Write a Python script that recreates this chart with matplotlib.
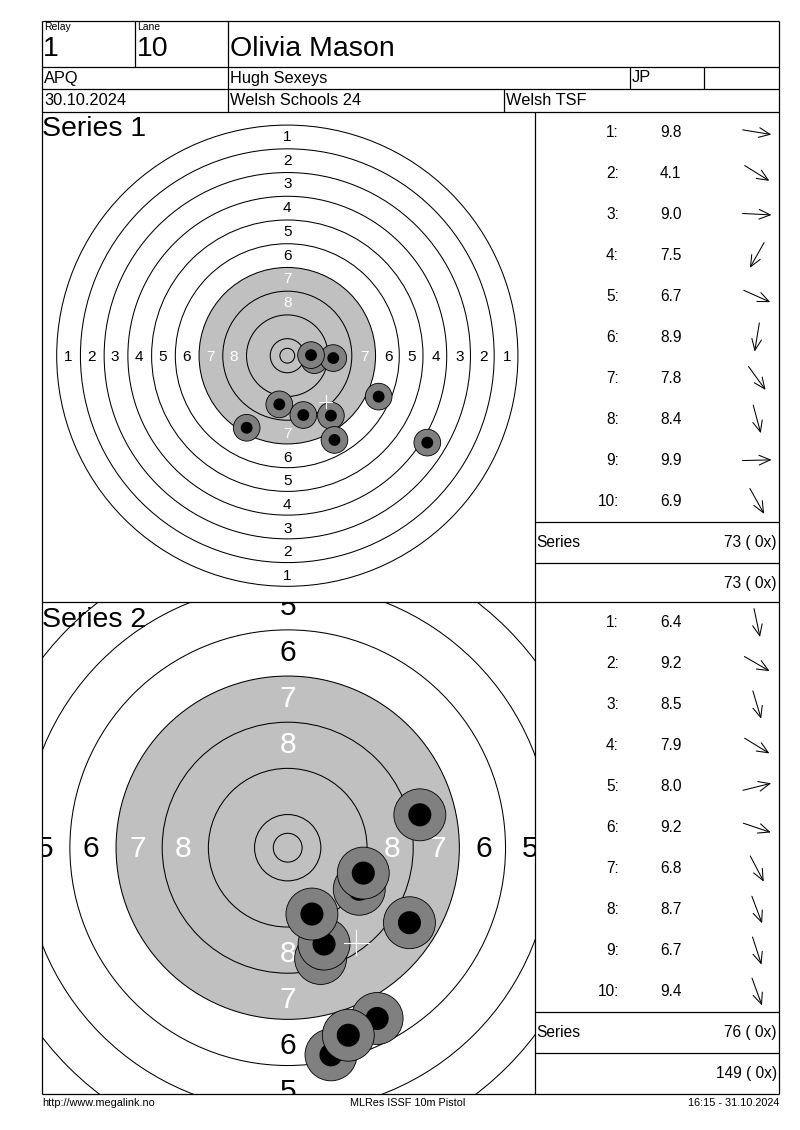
import numpy as np
import matplotlib
matplotlib.use("Agg")
import matplotlib.pyplot as plt
from matplotlib.patches import Circle

plt.rcParams['font.family'] = ['Liberation Sans', 'DejaVu Sans']

# header texts
relay = "1"
lane = "10"
shooter = "Olivia Mason"
shooter_class = "APQ"
club = "Hugh Sexeys"
team = "JP"
match_date = "30.10.2024"
event = "Welsh Schools 24"
organiser = "Welsh TSF"
footer_left = "http://www.megalink.no"
footer_mid = "MLRes ISSF 10m Pistol"
footer_right = "16:15 - 31.10.2024"

series_names = ["Series 1", "Series 2"]

# decimal scores as printed in the table
s1_scores = [9.8, 4.1, 9.0, 7.5, 6.7, 8.9, 7.8, 8.4, 9.9, 6.9]
s2_scores = [6.4, 9.2, 8.5, 7.9, 8.0, 9.2, 6.8, 8.7, 6.7, 9.4]

# shot positions in mm from the centre (x right, y up)
s1_x = [9.1, 47.2, 15.5, -13.7, 30.8, -2.7, 14.7, 5.4, 8.0, 15.9]
s1_y = [-1.5, -29.3, -0.8, -24.3, -13.8, -16.4, -20.2, -20.0, 0.2, -28.4]
s2_x = [7.5, 12.4, 5.7, 21.1, 22.9, 13.1, 15.5, 6.3, 10.5, 4.2]
s2_y = [-35.9, -7.2, -19.2, -13.0, 5.7, -4.4, -29.6, -16.7, -32.5, -11.5]
inner_tens = [0, 0]

W, H = 800, 1130
fig = plt.figure(figsize=(W / 100, H / 100), dpi=100)

# overlay in pixel coordinates for the form lines and texts
ov = fig.add_axes([0, 0, 1, 1], zorder=5)
ov.set_xlim(0, W)
ov.set_ylim(H, 0)
ov.axis('off')
ov.patch.set_alpha(0)

L, R = 42, 779
MID = 534.5


def hline(y, x0=L, x1=R):
    ov.plot([x0, x1], [y, y], color='black', lw=0.9, solid_capstyle='butt')


def vline(x, y0, y1):
    ov.plot([x, x], [y0, y1], color='black', lw=0.9, solid_capstyle='butt')


def txt(x, y, s, size, ha='left', color='black'):
    ov.text(x, y, s, fontsize=size, ha=ha, va='center', color=color)


def ring_radius(n):
    return 5.75 + 8.0 * (10 - n)


def draw_target(xs, ys, scale, cx, cy, top, bottom):
    ax = fig.add_axes([L / W, 1 - bottom / H, (MID - L) / W, (bottom - top) / H], zorder=1)
    ax.set_xlim((L - cx) / scale, (MID - cx) / scale)
    ax.set_ylim((cy - bottom) / scale, (cy - top) / scale)
    ax.axis('off')

    ax.add_patch(Circle((0, 0), ring_radius(7), facecolor='#c0c0c0', edgecolor='none', zorder=1))
    for n in range(1, 11):
        ax.add_patch(Circle((0, 0), ring_radius(n), fill=False, edgecolor='black', lw=0.75, zorder=2))
    ax.add_patch(Circle((0, 0), 2.5, fill=False, edgecolor='black', lw=0.75, zorder=2))

    fs = 5.2 * scale * 0.72
    for n in range(1, 9):
        r = ring_radius(n) - 3.7
        col = 'white' if n >= 7 else 'black'
        for px, py in [(0, r), (0, -r), (-r, 0), (r, 0)]:
            ax.text(px, py - 0.3, str(n), fontsize=fs, ha='center', va='center',
                    color=col, zorder=3, clip_on=True)

    for i, (x, y) in enumerate(zip(xs, ys)):
        ax.add_patch(Circle((x, y), 4.5, facecolor='#808080', edgecolor='black', lw=0.6, zorder=10 + 2 * i))
        ax.add_patch(Circle((x, y), 2.0, facecolor='black', edgecolor='none', zorder=11 + 2 * i))

    mx, my = np.mean(xs), np.mean(ys)
    h = 2.2
    ax.plot([mx - h, mx + h], [my, my], color='white', lw=0.8, zorder=40)
    ax.plot([mx, mx], [my - h, my + h], color='white', lw=0.8, zorder=40)


def draw_table(scores, xs, ys, top, n_inner, running):
    row_h = 41.0
    for i, v in enumerate(scores):
        yc = top + row_h * (i + 0.5)
        txt(619, yc, f"{i + 1}:", 11.2, ha='right')
        txt(660, yc, f"{v:.1f}", 11.2)
        u = np.array([xs[i], -ys[i]])
        u = u / np.hypot(*u)
        a = np.array([757.0, yc]) - u * 14.5
        b = np.array([757.0, yc]) + u * 14.5
        ov.annotate('', xy=b, xytext=a,
                    arrowprops=dict(arrowstyle='->,head_length=0.8,head_width=0.35',
                                    lw=0.75, color='black', shrinkA=0, shrinkB=0))
    y_s = top + row_h * 10
    hline(y_s, MID, R)
    hline(y_s + 41, MID, R)
    total = sum(int(v) for v in scores)
    txt(536, y_s + 20.5, "Series", 11.2)
    txt(777, y_s + 20.5, f"{total} ( {n_inner}x)", 11.2, ha='right')
    txt(777, y_s + 61.5, f"{running + total} ( {n_inner}x)", 11.2, ha='right')
    return running + total


# header grid
hline(21)
hline(66.7)
hline(89)
hline(111.7)
hline(602.3)
hline(1094)
vline(L, 21, 1094)
vline(R, 21, 1094)
vline(135, 21, 66.7)
vline(228, 21, 111.7)
vline(630, 66.7, 89)
vline(704, 66.7, 89)
vline(504, 89, 111.7)
vline(MID, 111.7, 1094)

txt(44, 27, "Relay", 7.5)
txt(137, 27, "Lane", 7.5)
txt(43, 49, relay, 20.5)
txt(137, 49, lane, 20.5)
txt(230, 49, shooter, 20.5)
txt(44, 78, shooter_class, 11.8)
txt(230, 78, club, 11.8)
txt(632, 78, team, 11.8)
txt(44, 100.5, match_date, 11.8)
txt(230, 100.5, event, 11.8)
txt(506, 100.5, organiser, 11.8)

draw_target(s1_x, s1_y, 2.966, 287.3, 355.7, 111.7, 602.3)
draw_target(s2_x, s2_y, 5.77, 287.7, 847.7, 602.3, 1094)
txt(42, 129, series_names[0], 20.5)
txt(42, 620, series_names[1], 20.5)

run = draw_table(s1_scores, s1_x, s1_y, 111.7, inner_tens[0], 0)
run = draw_table(s2_scores, s2_x, s2_y, 602.3, inner_tens[1], run)

txt(42, 1103, footer_left, 7.8)
txt(408, 1103, footer_mid, 7.8, ha='center')
txt(779, 1103, footer_right, 7.8, ha='right')

fig.savefig("out.png", dpi=100)
